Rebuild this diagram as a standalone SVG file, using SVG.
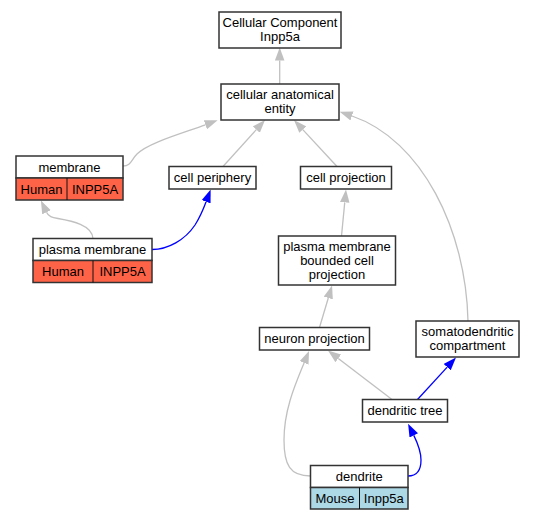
<svg xmlns="http://www.w3.org/2000/svg" width="533" height="520" viewBox="0 0 533 520">
<style>
.bx{fill:#fff;stroke:#333;stroke-width:1.5}
.hu{fill:#ff6347;stroke:#333;stroke-width:1.5}
.mo{fill:#add8e6;stroke:#333;stroke-width:1.5}
.sep{stroke:#111;stroke-width:1}
text{font-family:"Liberation Sans",Arial,sans-serif;font-size:13px;fill:#000;text-anchor:middle}
.g{fill:none;stroke:#c0c0c0;stroke-width:1.3}
.b{fill:none;stroke:#0000ff;stroke-width:1.3}
</style>
<defs>
<marker id="ag" markerUnits="userSpaceOnUse" markerWidth="13" markerHeight="10" refX="0" refY="4.75" orient="auto" viewBox="0 0 13 9.5"><path d="M0,0 L13,4.75 L0,9.5 z" fill="#c0c0c0"/></marker>
<marker id="ab" markerUnits="userSpaceOnUse" markerWidth="13" markerHeight="10" refX="0" refY="4.75" orient="auto" viewBox="0 0 13 9.5"><path d="M0,0 L13,4.75 L0,9.5 z" fill="#0000ff"/></marker>
</defs>
<rect width="533" height="520" fill="#fff"/>
<g id="edges">
<path class="g" marker-end="url(#ag)" d="M279.7,84 L279.7,60.5"/>
<path class="g" marker-end="url(#ag)" d="M123,166 C131,166 131,160 137,154 C148,143 180,134 205.4,124.8"/>
<path class="g" marker-end="url(#ag)" d="M223,166.5 L256.3,129.6"/>
<path class="g" marker-end="url(#ag)" d="M337,166.5 L302.8,129.6"/>
<path class="g" marker-end="url(#ag)" d="M468,321 C466,230 422,140 352,116"/>
<path class="g" marker-end="url(#ag)" d="M93,238.5 C92,225 72,221 58,218.5 C52,217.5 48.5,216.5 46.5,212.3"/>
<path class="b" marker-end="url(#ab)" d="M152,249.5 C168,249.5 185,240 195,225 C200,217 203,210 206.1,201.7"/>
<path class="g" marker-end="url(#ag)" d="M341.5,236 L344.75,202.4"/>
<path class="g" marker-end="url(#ag)" d="M319.5,327.5 L328.3,298"/>
<path class="g" marker-end="url(#ag)" d="M392,399.5 L338.3,358.4"/>
<path class="b" marker-end="url(#ab)" d="M417.5,399.5 L447.2,367.1"/>
<path class="g" marker-end="url(#ag)" d="M310.5,476 C290,476 284,465 284,440 C284,410 295,385 304.1,362.9"/>
<path class="b" marker-end="url(#ab)" d="M408,476 C417,476 421,470 421,460 C421,452 418,444 413.8,435.4"/>
</g>
<g id="n_cc"><rect class="bx" x="219" y="12" width="122" height="36"/><text x="280" y="27">Cellular Component</text><text x="280" y="41">Inpp5a</text></g>
<g id="n_cae"><rect class="bx" x="221" y="84" width="118" height="36"/><text x="280" y="99">cellular anatomical</text><text x="280" y="113">entity</text></g>
<g id="n_membrane"><rect class="bx" x="16" y="156" width="107" height="22"/><rect class="hu" x="16" y="178" width="107" height="22"/><line class="sep" x1="67" y1="178" x2="67" y2="200"/><text x="69.5" y="171.5">membrane</text><text x="41.5" y="193.5">Human</text><text x="95" y="193.5">INPP5A</text></g>
<g id="n_cp"><rect class="bx" x="169" y="166.5" width="87" height="22.5"/><text x="212.5" y="182">cell periphery</text></g>
<g id="n_cproj"><rect class="bx" x="300.5" y="166.5" width="91" height="22.5"/><text x="346" y="182">cell projection</text></g>
<g id="n_pm"><rect class="bx" x="33" y="238.5" width="119" height="22"/><rect class="hu" x="33" y="260.5" width="119" height="22"/><line class="sep" x1="93" y1="260.5" x2="93" y2="282.5"/><text x="92.5" y="254">plasma membrane</text><text x="63" y="276">Human</text><text x="122.5" y="276">INPP5A</text></g>
<g id="n_pmbcp"><rect class="bx" x="278.5" y="236" width="117" height="49"/><text x="337" y="251">plasma membrane</text><text x="337" y="265">bounded cell</text><text x="337" y="279">projection</text></g>
<g id="n_np"><rect class="bx" x="259.5" y="327.5" width="110" height="22.5"/><text x="314.5" y="343">neuron projection</text></g>
<g id="n_sdc"><rect class="bx" x="416" y="321" width="103" height="36"/><text x="467.5" y="336">somatodendritic</text><text x="467.5" y="350">compartment</text></g>
<g id="n_dt"><rect class="bx" x="362.5" y="399.5" width="85" height="22.5"/><text x="405" y="415">dendritic tree</text></g>
<g id="n_dendrite"><rect class="bx" x="310.5" y="465.5" width="97.5" height="22"/><rect class="mo" x="310.5" y="487.5" width="97.5" height="21.5"/><line class="sep" x1="359.5" y1="487.5" x2="359.5" y2="509"/><text x="359.25" y="481">dendrite</text><text x="335" y="502.5">Mouse</text><text x="383.75" y="502.5">Inpp5a</text></g>
</svg>
